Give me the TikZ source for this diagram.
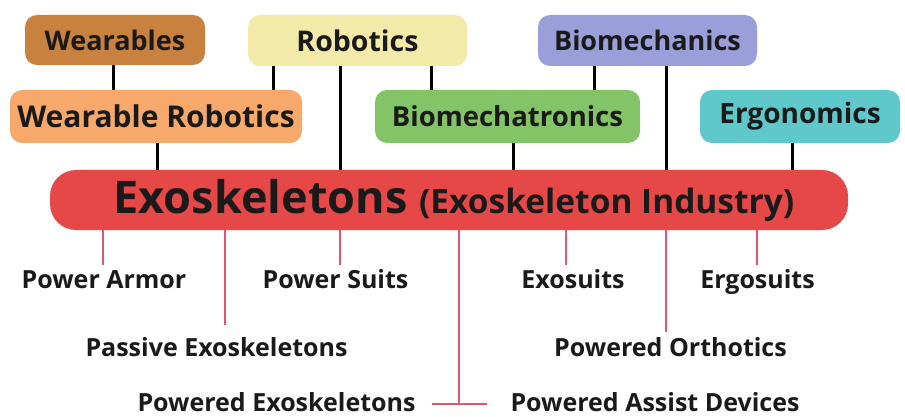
\documentclass[tikz,border=0pt]{standalone}
\usepackage{fontspec}
\setmainfont{Open Sans}
\definecolor{cWear}{HTML}{C8813F}
\definecolor{cRob}{HTML}{F3EAAA}
\definecolor{cBiom}{HTML}{9B9FD9}
\definecolor{cWR}{HTML}{F6A96A}
\definecolor{cBmt}{HTML}{84C469}
\definecolor{cErg}{HTML}{5FC8CB}
\definecolor{cExo}{HTML}{E64848}
\definecolor{cLine}{HTML}{E0566A}
\definecolor{cTxt}{HTML}{1A1A1A}
\newcommand{\fs}[1]{\fontsize{#1}{#1}\selectfont\bfseries}
\begin{document}
\begin{tikzpicture}[x=1pt,y=-1pt,
  box/.style={rounded corners=12pt, inner sep=0pt, text=cTxt},
  lab/.style={inner sep=0pt, anchor=base, text=cTxt, font=\fs{25}},
  up/.style={line width=3pt, black},
  down/.style={line width=2.5pt, cLine}]
\useasboundingbox (0,0) rectangle (905,417);
\fill[white] (0,0) rectangle (905,417);
% top boxes
\node[box, fill=cWear, minimum width=180pt, minimum height=50pt, font=\fs{27}] (wear) at (115,40) {Wearables};
\node[box, fill=cRob, minimum width=219pt, minimum height=51pt, font=\fs{28.5}] (rob) at (357.5,40.5) {Robotics};
\node[box, fill=cBiom, minimum width=219pt, minimum height=51pt, font=\fs{27}] (biom) at (647.5,40.5) {Biomechanics};
\node[box, fill=cWR, minimum width=292pt, minimum height=53pt, font=\fs{30}] (wr) at (156,116.5) {Wearable Robotics};
\node[box, fill=cBmt, minimum width=265pt, minimum height=53pt, font=\fs{27.5}] (bmt) at (507.5,116.5) {Biomechatronics};
\node[box, fill=cErg, minimum width=200pt, minimum height=53pt, font=\fs{28}] (erg) at (800,116.5) {Ergonomics};
\node[box, fill=cExo, rounded corners=26pt, minimum width=798pt, minimum height=60pt] (exo) at (449,200)
  {\hspace*{10pt}\fs{45}Exoskeletons \fs{33.5}(Exoskeleton Industry)};
% black connectors
\draw[up] (wear.south -| 113,0) -- (wr.north -| 113,0);
\draw[up] (rob.south -| 273,0) -- (wr.north -| 273,0);
\draw[up] (rob.south -| 340,0) -- (exo.north -| 340,0);
\draw[up] (rob.south -| 431,0) -- (bmt.north -| 431,0);
\draw[up] (biom.south -| 594,0) -- (bmt.north -| 594,0);
\draw[up] (biom.south -| 666,0) -- (exo.north -| 666,0);
\draw[up] (wr.south -| 157,0) -- (exo.north -| 157,0);
\draw[up] (bmt.south -| 513,0) -- (exo.north -| 513,0);
\draw[up] (erg.south -| 792,0) -- (exo.north -| 792,0);
% labels
\node[lab] (pa) at (104,288) {Power Armor};
\node[lab] (pe) at (216.5,356) {Passive Exoskeletons};
\node[lab] (ps) at (335.5,288) {Power Suits};
\node[lab] (es) at (573,288) {Exosuits};
\node[lab] (gs) at (757.5,288) {Ergosuits};
\node[lab] (po) at (670.5,356) {Powered Orthotics};
\node[lab] (px) at (276.5,411) {Powered Exoskeletons};
\node[lab] (pd) at (655,411) {Powered Assist Devices};
\coordinate (tj) at (459,404);
% red connectors
\draw[down] (exo.south -| 103,0) -- (103,265);
\draw[down] (exo.south -| 225,0) -- (225,325);
\draw[down] (exo.south -| 340,0) -- (340,265);
\draw[down] (exo.south -| 566,0) -- (566,265);
\draw[down] (exo.south -| 666,0) -- (666,332);
\draw[down] (exo.south -| 757,0) -- (757,265);
\draw[down] (exo.south -| tj) -- (tj);
\draw[down] (tj -| 432,0) -- (tj -| 487,0);
\end{tikzpicture}
\end{document}
